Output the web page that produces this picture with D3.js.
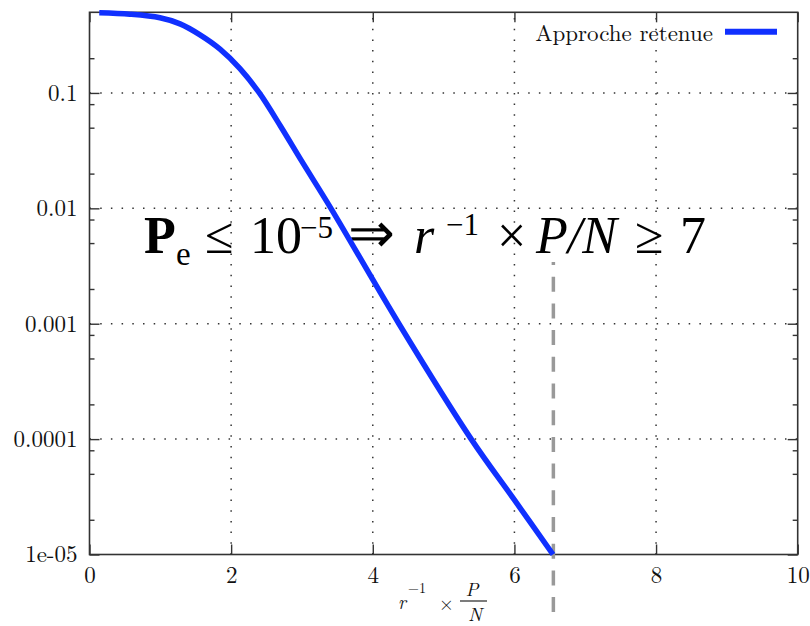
<!DOCTYPE html>
<html>
<head>
<meta charset="utf-8">
<script src="https://cdn.jsdelivr.net/npm/d3@7"></script>
<style>
  html, body { margin: 0; padding: 0; background: #fff; }
  svg { display: block; }
</style>
</head>
<body>
<script>
// Error probability versus r^-1 * P/N (log scale)
const snr = [0.138, 0.572, 0.995, 1.278, 1.56, 1.843, 2.125, 2.398, 2.70, 2.999, 3.409, 4.369, 5.39, 6.0, 6.545];
const pe  = [0.4955, 0.481, 0.448, 0.397, 0.319, 0.240, 0.1627, 0.1, 0.0512, 0.0255, 0.01, 0.001, 0.0001, 2.97e-5, 1e-5];

const xTicks = [0, 2, 4, 6, 8, 10];
const yTicks = [0.1, 0.01, 0.001, 0.0001, 0.00001];
const yTickLabels = ["0.1", "0.01", "0.001", "0.0001", "1e-05"];
const yMinorTicks = [0.2, 0.08, 0.05, 0.02, 0.008, 0.005, 0.002, 0.0008, 0.0005, 0.0002, 0.00008, 0.00005, 0.00002];
const xGrid = [2, 4, 6, 8];
const yGrid = [0.1, 0.01, 0.001, 0.0001];

const thresholdX = 6.55;          // required r^-1 * P/N for Pe = 1e-5
const legendLabel = "Approche retenue";

const W = 810, H = 626;
const margin = { left: 89.5, right: 12.3, top: 12.3, bottom: 71.5 };

const svg = d3.select("body").append("svg")
  .attr("width", W).attr("height", H);

const x = d3.scaleLinear().domain([0, 10]).range([margin.left, W - margin.right]);
const y = d3.scaleLog().domain([1e-5, 0.5]).range([H - margin.bottom, margin.top]);

const x0 = x.range()[0], x1 = x.range()[1];
const yb = y.range()[0], yt = y.range()[1];

const LM = "Latin Modern Roman";
const TIMES = "Liberation Serif";
const frameColor = "#333";

function font(sel, fam, size) {
  return sel.style("font-family", `"${fam}"`).style("font-size", size + "px");
}

// dotted grid
const grid = svg.append("g")
  .attr("stroke", "#333").attr("stroke-width", 1.5)
  .attr("stroke-dasharray", "1.5 9.2");
grid.selectAll("line.h").data(yGrid).join("line")
  .attr("class", "h")
  .attr("x1", x0).attr("x2", x1)
  .attr("y1", d => y(d)).attr("y2", d => y(d));
grid.selectAll("line.v").data(xGrid).join("line")
  .attr("class", "v")
  .attr("y1", yb).attr("y2", yt)
  .attr("x1", d => x(d)).attr("x2", d => x(d));

// axes with inward ticks
function styleAxis(g) {
  g.attr("font-family", null).attr("font-size", null);
  g.select(".domain").remove();
  g.selectAll(".tick line").attr("stroke", frameColor).attr("stroke-width", 1.4);
  font(g.selectAll("text"), LM, 23).attr("fill", "#111");
}

svg.append("g")
  .attr("transform", `translate(0,${yb})`)
  .call(d3.axisBottom(x).tickValues(xTicks).tickSize(-10).tickPadding(12).tickFormat(d3.format("d")))
  .call(styleAxis);

svg.append("g")
  .attr("transform", `translate(0,${yt})`)
  .call(d3.axisTop(x).tickValues(xTicks).tickSize(-10).tickFormat(""))
  .call(styleAxis);

svg.append("g")
  .attr("transform", `translate(${x0},0)`)
  .call(d3.axisLeft(y).tickValues(yTicks).tickSize(-10).tickPadding(12)
    .tickFormat(d => yTickLabels[yTicks.indexOf(d)]))
  .call(styleAxis);

svg.append("g")
  .attr("transform", `translate(${x0},0)`)
  .call(d3.axisLeft(y).tickValues(yMinorTicks).tickSize(-5).tickFormat(""))
  .call(styleAxis);

svg.append("g")
  .attr("transform", `translate(${x1},0)`)
  .call(d3.axisRight(y).tickValues(yTicks).tickSize(-10).tickFormat(""))
  .call(styleAxis);

svg.append("g")
  .attr("transform", `translate(${x1},0)`)
  .call(d3.axisRight(y).tickValues(yMinorTicks).tickSize(-5).tickFormat(""))
  .call(styleAxis);

// frame
svg.append("rect")
  .attr("x", x0).attr("y", yt)
  .attr("width", x1 - x0).attr("height", yb - yt)
  .attr("fill", "none").attr("stroke", frameColor).attr("stroke-width", 1.6);

// x-axis title: r^-1 x P/N
const xt = svg.append("g").attr("fill", "#111");
font(xt.append("text").attr("x", 398).attr("y", 608.5), LM, 19).style("font-style", "italic").text("r");
font(xt.append("text").attr("x", 408).attr("y", 593), LM, 14).text("\u22121");
font(xt.append("text").attr("x", 439).attr("y", 609.5), LM, 19).text("\u00d7");
font(xt.append("text").attr("x", 472).attr("y", 596), LM, 19).style("font-style", "italic").attr("text-anchor", "middle").text("P");
xt.append("line").attr("x1", 460).attr("x2", 487).attr("y1", 601).attr("y2", 601).attr("stroke", "#111").attr("stroke-width", 1.1);
font(xt.append("text").attr("x", 475).attr("y", 620.5), LM, 19).style("font-style", "italic").attr("text-anchor", "middle").text("N");

// annotation: Pe <= 10^-5 => r^-1 x P/N >= 7
const ann = svg.append("g").attr("fill", "#000");
const base = 252.7;
const pieces = [
  { t: "P", x: 144, y: base, w: "bold" },
  { t: "e", x: 176, y: base + 12, fs: 33 },
  { t: "\u2264", x: 205, y: base },
  { t: "10", x: 250, y: base },
  { t: "\u22125", x: 300, y: base - 15, fs: 31 },
  { t: "\u21d2", x: 348, y: base - 1, fs: 56 },
  { t: "r", x: 414, y: base, st: "italic" },
  { t: "\u22121", x: 446, y: base - 18, fs: 31 },
  { t: "\u00d7", x: 497, y: base },
  { t: "P/N", x: 536, y: base, st: "italic" },
  { t: "\u2265", x: 635, y: base },
  { t: "7", x: 680, y: base }
];
pieces.forEach(p => {
  const s = font(ann.append("text").attr("x", p.x).attr("y", p.y), TIMES, p.fs || 52).text(p.t);
  if (p.w) s.style("font-weight", p.w);
  if (p.st) s.style("font-style", p.st);
});

// threshold guide
svg.append("line")
  .attr("x1", x(thresholdX)).attr("x2", x(thresholdX))
  .attr("y1", 262).attr("y2", yb + 58)
  .attr("stroke", "#999").attr("stroke-width", 3.5)
  .attr("stroke-dasharray", "15 11.7").attr("stroke-dashoffset", 12);

// curve
const line = d3.line()
  .x((d, i) => x(snr[i]))
  .y(d => y(d))
  .curve(d3.curveCatmullRom.alpha(0.5));

svg.append("path")
  .datum(pe)
  .attr("d", line)
  .attr("fill", "none")
  .attr("stroke", "#1030ff")
  .attr("stroke-width", 5.5)
  .attr("stroke-linejoin", "round");

// legend
const lg = svg.append("g");
font(lg.append("text").attr("x", 713).attr("y", 41), LM, 23)
  .attr("text-anchor", "end").attr("fill", "#111")
  .text(legendLabel);
lg.append("line")
  .attr("x1", 725).attr("x2", 777).attr("y1", 31.7).attr("y2", 31.7)
  .attr("stroke", "#1030ff").attr("stroke-width", 6);
</script>
</body>
</html>
